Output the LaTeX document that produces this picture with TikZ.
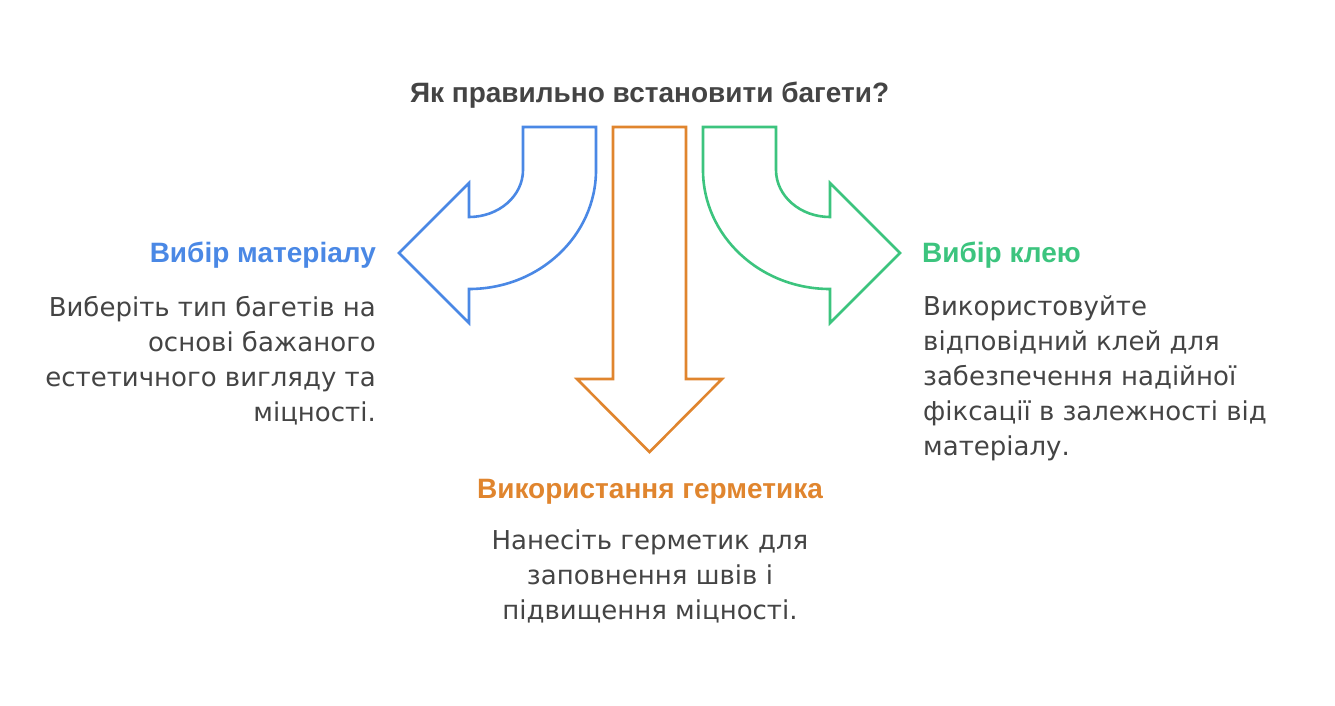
\documentclass[tikz,border=0pt]{standalone}
\usepackage{fontspec}
\setmainfont{DejaVu Sans}
\newfontfamily\headfont{Liberation Sans}
\usepackage{tikz}
\usetikzlibrary{positioning,calc}
\definecolor{ink}     {HTML}{444444}
\definecolor{bluish}  {HTML}{4A88E5}
\definecolor{orangy}  {HTML}{E0852E}
\definecolor{greenish}{HTML}{3CC47E}
\tikzset{
  % --- text
  ttl/.style  = {font=\headfont\fontsize{28}{32}\selectfont\bfseries, text=ink, inner sep=0pt},
  head/.style = {font=\headfont\fontsize{28}{32}\selectfont\bfseries, inner sep=0pt},
  body/.style = {font=\fontsize{26}{35}\selectfont, text=ink, inner sep=0pt},
  % --- arrow outlines
  outline/.style= {line width=2.6pt, line join=miter, fill=white},
}

\begin{document}
\begin{tikzpicture}[x=1pt,y=-1pt]
  \useasboundingbox (0,0) rectangle (1335,705);

  \node[ttl, anchor=base] (question) at (649.5,102) {Як правильно встановити багети?};

  % left bent arrow
  \draw[outline, draw=bluish] (596,127) -- (523,127) -- (523,170)
        arc[start angle=0, end angle=90, x radius=54, y radius=47]
        -- (469,183) -- (399,253) -- (469,323) -- (469,289)
        arc[start angle=90, end angle=0, x radius=127, y radius=119] -- cycle;
  % straight arrow
  \draw[outline, draw=orangy] (613,127) -- (686,127) -- (686,379) -- (722,379)
        -- (649.5,452) -- (577,379) -- (613,379) -- cycle;
  % right bent arrow
  \draw[outline, draw=greenish] (703,127) -- (776,127) -- (776,170)
        arc[start angle=180, end angle=90, x radius=54, y radius=47]
        -- (830,183) -- (900,253) -- (830,323) -- (830,289)
        arc[start angle=90, end angle=180, x radius=127, y radius=119] -- cycle;

  \node[head, text=bluish, anchor=base east] (mathead) at (376,262) {Вибір матеріалу};
  \node[body, align=right, anchor=north east] (matbody) at (376,296)
       {Виберіть тип багетів на\\основі бажаного\\естетичного вигляду та\\міцності.};

  \node[head, text=orangy, anchor=base] (selhead) at (650,498) {Використання герметика};
  \node[body, align=center, anchor=north] (selbody) at (650,530)
       {Нанесіть герметик для\\заповнення швів і\\підвищення міцності.};

  \node[head, text=greenish, anchor=base west] (gluehead) at (922,262) {Вибір клею};
  \node[body, align=left, anchor=north west] (gluebody) at (923,296)
       {Використовуйте\\відповідний клей для\\забезпечення надійної\\фіксації в залежності від\\матеріалу.};
\end{tikzpicture}
\end{document}
